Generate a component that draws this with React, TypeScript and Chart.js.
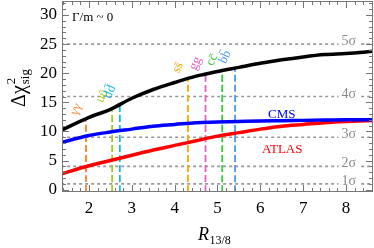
import { useEffect, useRef } from "react";
import { Chart, registerables } from "chart.js";
Chart.register(...registerables);

// R_{13/8} sample positions and Δχ² values for each curve
const xValues = [1.3, 2, 2.5, 3, 3.5, 4, 4.5, 5, 5.5, 6, 6.5, 7, 7.5, 8, 8.7];
const combinedValues = [10.0, 12.4, 13.8, 15.7, 17.2, 18.4, 19.5, 20.3, 21.0, 21.7, 22.3, 22.8, 23.2, 23.4, 23.8];
const cmsValues = [8.0, 9.3, 9.9, 10.4, 10.9, 11.2, 11.5, 11.6, 11.7, 11.8, 11.85, 11.9, 11.95, 12.0, 12.0];
const atlasValues = [2.6, 4.1, 5.0, 5.9, 6.8, 7.6, 8.4, 9.2, 9.8, 10.4, 10.9, 11.2, 11.5, 11.7, 11.9];

// production channels: vertical markers
const channelLabels = ["γγ", "uū", "dd̄", "ss̄", "gg", "cc̄", "bb̄"];
const channelR = [1.93, 2.54, 2.72, 4.31, 4.72, 5.11, 5.41];
const channelTop = [11.9, 14.2, 14.9, 19.1, 19.8, 20.4, 20.9];
const channelColors = ["#ff7f2a", "#a6c81e", "#1eb4e6", "#ffa500", "#e060c8", "#3cc83c", "#4a9af0"];

// significance levels
const sigmaLabels = ["1σ", "2σ", "3σ", "4σ", "5σ"];
const sigmaValues = [1, 4, 9, 16, 25];

// axes
const xMin = 1.37;
const xMax = 8.63;
const yMin = -0.4;
const yMax = 32.4;
const xMajorTicks = [2, 3, 4, 5, 6, 7, 8];
const yMajorTicks = [0, 5, 10, 15, 20, 25, 30];
const xMinorStep = 0.2;
const yMinorStep = 1;

const SERIF = "'Liberation Serif', 'DejaVu Serif', serif";

const decorPlugin = {
  id: "decor",
  afterDatasetsDraw(chart: any) {
    const ctx = chart.ctx;
    const xs = chart.scales.x;
    const ys = chart.scales.y;
    ctx.save();
    // sigma labels
    ctx.font = `14px ${SERIF}`;
    ctx.textAlign = "right";
    ctx.textBaseline = "alphabetic";
    sigmaValues.forEach((v, i) => {
      const py = ys.getPixelForValue(v);
      const label = sigmaLabels[i];
      const w = ctx.measureText(label).width;
      const right = 356;
      ctx.fillStyle = "#fff";
      ctx.fillRect(right - w - 3, py - 4, w + 6, 6);
      ctx.fillStyle = "#8a8a8a";
      ctx.fillText(label, right, py + 1);
    });
    // channel labels
    ctx.font = `13px ${SERIF}`;
    ctx.textAlign = "center";
    ctx.textBaseline = "middle";
    channelLabels.forEach((lab, i) => {
      const px = xs.getPixelForValue(channelR[i]);
      const py = ys.getPixelForValue(channelTop[i]);
      ctx.save();
      ctx.translate(px - 10, py - 11);
      ctx.rotate((-65 * Math.PI) / 180);
      ctx.fillStyle = channelColors[i];
      ctx.fillText(lab, 0, 0);
      ctx.restore();
    });
    // text annotations
    ctx.textAlign = "left";
    ctx.textBaseline = "alphabetic";
    ctx.font = `13px ${SERIF}`;
    ctx.fillStyle = "#000";
    ctx.fillText("Γ/m ~ 0", 72, 21);
    ctx.fillStyle = "#0000ff";
    ctx.fillText("CMS", 268, 118);
    ctx.fillStyle = "#ff0000";
    ctx.fillText("ATLAS", 262, 153);
    ctx.restore();
  },
  afterDraw(chart: any) {
    const ctx = chart.ctx;
    const a = chart.chartArea;
    const xs = chart.scales.x;
    const ys = chart.scales.y;
    ctx.save();
    ctx.strokeStyle = "#777";
    ctx.lineWidth = 1;
    ctx.strokeRect(a.left + 0.5, a.top + 0.5, a.right - a.left - 1, a.bottom - a.top - 1);
    ctx.beginPath();
    const isMajorX = (v: number) => xMajorTicks.some((m) => Math.abs(m - v) < 1e-6);
    const isMajorY = (v: number) => yMajorTicks.some((m) => Math.abs(m - v) < 1e-6);
    for (let k = Math.ceil(xMin / xMinorStep); k * xMinorStep <= xMax; k++) {
      const v = k * xMinorStep;
      const px = Math.round(xs.getPixelForValue(v)) + 0.5;
      const len = isMajorX(v) ? 7 : 4;
      ctx.moveTo(px, a.bottom);
      ctx.lineTo(px, a.bottom - len);
      ctx.moveTo(px, a.top);
      ctx.lineTo(px, a.top + len);
    }
    for (let k = Math.ceil(yMin / yMinorStep); k * yMinorStep <= yMax; k++) {
      const v = k * yMinorStep;
      const py = Math.round(ys.getPixelForValue(v)) + 0.5;
      const len = isMajorY(v) ? 7 : 4;
      ctx.moveTo(a.left, py);
      ctx.lineTo(a.left + len, py);
      ctx.moveTo(a.right, py);
      ctx.lineTo(a.right - len, py);
    }
    ctx.stroke();

    // y axis title: Δχ²_sig
    ctx.fillStyle = "#000";
    ctx.save();
    ctx.translate(25, 0);
    ctx.rotate(-Math.PI / 2);
    ctx.textBaseline = "alphabetic";
    ctx.textAlign = "left";
    ctx.font = `20px ${SERIF}`;
    const main = "Δχ";
    const wMain = ctx.measureText(main).width;
    ctx.font = `13px ${SERIF}`;
    const wSub = ctx.measureText("sig").width;
    const total = wMain + wSub + 1;
    const startX = -88 - total / 2;
    ctx.font = `20px ${SERIF}`;
    ctx.fillText(main, startX, 0);
    ctx.font = `13px ${SERIF}`;
    ctx.fillText("2", startX + wMain + 1, -10);
    ctx.fillText("sig", startX + wMain + 1, 4);
    ctx.restore();

    // x axis title: R_{13/8}
    ctx.textAlign = "left";
    ctx.textBaseline = "alphabetic";
    ctx.font = `italic 18px ${SERIF}`;
    ctx.fillText("R", 198, 240);
    const wR = ctx.measureText("R").width;
    ctx.font = `12px ${SERIF}`;
    ctx.fillText("13/8", 198 + wR + 0.5, 244);
    ctx.restore();
  },
};

export default function App() {
  const ref = useRef<HTMLCanvasElement | null>(null);
  useEffect(() => {
    if (!ref.current) return;
    const curve = (vals: number[]) => xValues.map((x, i) => ({ x, y: vals[i] }));
    const datasets: any[] = [
      { data: curve(combinedValues), borderColor: "#000", borderWidth: 3.5, order: 0 },
      { data: curve(cmsValues), borderColor: "#0000ff", borderWidth: 3.5, order: 0 },
      { data: curve(atlasValues), borderColor: "#ff0000", borderWidth: 3.5, order: 0 },
    ];
    channelR.forEach((r, i) => {
      datasets.push({
        data: [
          { x: r, y: yMin },
          { x: r, y: channelTop[i] },
        ],
        borderColor: channelColors[i],
        borderWidth: 1.8,
        borderDash: [7, 3],
        tension: 0,
        order: 1,
      });
    });
    sigmaValues.forEach((s) => {
      datasets.push({
        data: [
          { x: xMin - 1, y: s },
          { x: xMax + 1, y: s },
        ],
        borderColor: "#999",
        borderWidth: 1.6,
        borderDash: [3, 3],
        tension: 0,
        order: 2,
      });
    });
    const chart = new Chart(ref.current, {
      type: "line",
      data: { datasets },
      options: {
        animation: false,
        responsive: false,
        devicePixelRatio: 1,
        layout: { padding: { top: 1, right: 1, left: 0, bottom: 0 } },
        elements: {
          point: { radius: 0 },
          line: { tension: 0.4, cubicInterpolationMode: "monotone", fill: false },
        },
        plugins: { legend: { display: false }, tooltip: { enabled: false } },
        scales: {
          x: {
            type: "linear",
            min: xMin,
            max: xMax,
            grid: { display: false, drawTicks: false },
            border: { display: false },
            afterBuildTicks: (s: any) => {
              s.ticks = xMajorTicks.map((v) => ({ value: v }));
            },
            afterFit: (s: any) => {
              s.height = 56;
              s.paddingLeft = 0;
              s.paddingRight = 0;
            },
            ticks: { font: { family: SERIF, size: 17 }, color: "#000", padding: 6, maxRotation: 0 },
          },
          y: {
            type: "linear",
            min: yMin,
            max: yMax,
            grid: { display: false, drawTicks: false },
            border: { display: false },
            afterBuildTicks: (s: any) => {
              s.ticks = yMajorTicks.map((v) => ({ value: v }));
            },
            afterFit: (s: any) => {
              s.width = 62;
              s.paddingTop = 0;
              s.paddingBottom = 0;
            },
            ticks: { font: { family: SERIF, size: 17 }, color: "#000", padding: 5 },
          },
        },
      } as any,
      plugins: [decorPlugin],
    });
    return () => chart.destroy();
  }, []);
  return (
    <div style={{ position: "fixed", left: 0, top: 0, width: 374, height: 248, background: "#fff" }}>
      <canvas ref={ref} width={374} height={248} style={{ width: 374, height: 248, display: "block" }} />
    </div>
  );
}
